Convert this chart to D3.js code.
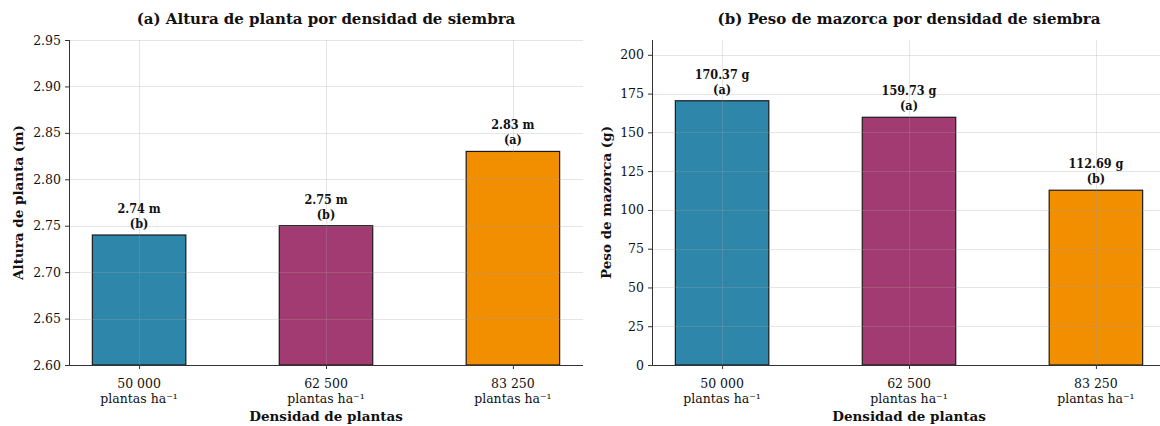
<!DOCTYPE html>
<html>
<head>
<meta charset="utf-8">
<script src="https://cdn.jsdelivr.net/npm/d3@7"></script>
<style>
  html, body { margin: 0; padding: 0; background: #fff; }
  svg { display: block; }
  text { font-family: "DejaVu Serif", serif; fill: #111; }
  text.value { font-family: "DejaVu Serif Condensed", "DejaVu Serif", serif; }
</style>
</head>
<body>
<svg id="chart" width="1160" height="426"></svg>
<script>
// Planting densities (x categories)
const densities = ["50 000", "62 500", "83 250"];
const densityUnit = "plantas ha⁻¹";
const barColors = ["#2E86AB", "#A23B72", "#F18F01"];

// Panel (a): plant height (m)
const heightValues = [2.74, 2.75, 2.83];
const heightGroups = ["b", "b", "a"];
const heightTicks = [2.60, 2.65, 2.70, 2.75, 2.80, 2.85, 2.90, 2.95];

// Panel (b): ear weight (g)
const earValues = [170.37, 159.73, 112.69];
const earGroups = ["a", "a", "b"];
const earTicks = [0, 25, 50, 75, 100, 125, 150, 175, 200];

const svg = d3.select("#chart");
const plotTop = 40, plotBottom = 365;

const panels = [
  {
    x0: 69, x1: 583,
    title: "(a) Altura de planta por densidad de siembra",
    ylabel: "Altura de planta (m)", ylabelX: 18,
    values: heightValues, groups: heightGroups, unit: "m",
    domain: [2.60, 2.95], ticks: heightTicks, fmt: d3.format(".2f")
  },
  {
    x0: 652, x1: 1166,
    title: "(b) Peso de mazorca por densidad de siembra",
    ylabel: "Peso de mazorca (g)", ylabelX: 606,
    values: earValues, groups: earGroups, unit: "g",
    domain: [0, 170.37 * 1.23], ticks: earTicks, fmt: d3.format("d")
  }
];

panels.forEach(p => {
  const g = svg.append("g");
  // bars take half of the category step, with matplotlib-like side margins
  const n = densities.length;
  const step = (p.x1 - p.x0) / (n - 1 + 0.75);
  const x = d3.scalePoint().domain(densities)
    .range([p.x0 + 0.375 * step, p.x1 - 0.375 * step]);
  const barW = step * 0.5;
  const y = d3.scaleLinear().domain(p.domain).range([plotBottom, plotTop]);

  // bars
  g.selectAll("rect.bar").data(p.values).join("rect")
    .attr("class", "bar")
    .attr("x", (d, i) => x(densities[i]) - barW / 2)
    .attr("width", barW)
    .attr("y", d => y(d))
    .attr("height", d => y(p.domain[0]) - y(d))
    .attr("fill", (d, i) => barColors[i])
    .attr("stroke", "#1a1a1a")
    .attr("stroke-width", 1.2);

  // grid on top of bars, faint
  const grid = g.append("g").attr("stroke", "rgba(160,160,160,0.28)").attr("stroke-width", 1);
  grid.selectAll("line.h").data(p.ticks.filter(t => t > p.domain[0])).join("line")
    .attr("x1", p.x0).attr("x2", p.x1)
    .attr("y1", d => Math.round(y(d)) + 0.5).attr("y2", d => Math.round(y(d)) + 0.5);
  grid.selectAll("line.v").data(densities).join("line")
    .attr("x1", d => Math.round(x(d)) + 0.5).attr("x2", d => Math.round(x(d)) + 0.5)
    .attr("y1", plotTop).attr("y2", plotBottom);

  // axes
  const yAxis = d3.axisLeft(y).tickValues(p.ticks).tickFormat(p.fmt).tickSize(4).tickPadding(4);
  const ya = g.append("g").attr("transform", `translate(${p.x0},0)`).call(yAxis);
  ya.select(".domain").attr("stroke", "#333").attr("d", `M0.5,${plotTop}V${plotBottom}`);
  ya.selectAll(".tick line").attr("stroke", "#333");
  ya.selectAll(".tick text").attr("font-size", 12.5).attr("fill", "#222")
    .style("font-family", "'DejaVu Serif', serif");

  const xAxis = d3.axisBottom(x).tickSize(4).tickFormat("");
  const xa = g.append("g").attr("transform", `translate(0,${plotBottom})`).call(xAxis);
  xa.select(".domain").attr("stroke", "#333").attr("d", `M${p.x0},0.5H${p.x1}`);
  xa.selectAll(".tick line").attr("stroke", "#333");
  densities.forEach(d => {
    const t = g.append("text").attr("x", x(d)).attr("text-anchor", "middle").attr("font-size", 12.5).attr("fill", "#222");
    t.append("tspan").attr("x", x(d)).attr("y", 388).text(d);
    t.append("tspan").attr("x", x(d)).attr("y", 403).text(densityUnit);
  });

  // value labels
  p.values.forEach((v, i) => {
    const cx = x(densities[i]);
    const t = g.append("text").attr("class", "value").attr("text-anchor", "middle")
      .attr("font-size", 12.5).attr("font-weight", "bold");
    t.append("tspan").attr("x", cx).attr("y", y(v) - 22).text(`${v.toFixed(2)} ${p.unit}`);
    t.append("tspan").attr("x", cx).attr("y", y(v) - 7).text(`(${p.groups[i]})`);
  });

  // titles and axis labels
  g.append("text").attr("x", (p.x0 + p.x1) / 2).attr("y", 24).attr("text-anchor", "middle")
    .attr("font-size", 15).attr("font-weight", "bold").text(p.title);
  g.append("text").attr("x", (p.x0 + p.x1) / 2).attr("y", 421).attr("text-anchor", "middle")
    .attr("font-size", 13.5).attr("font-weight", "bold").text("Densidad de plantas");
  g.append("text").attr("transform", `translate(${p.ylabelX + 5},${(plotTop + plotBottom) / 2}) rotate(-90)`)
    .attr("text-anchor", "middle").attr("font-size", 13.5).attr("font-weight", "bold").text(p.ylabel);
});
</script>
</body>
</html>
